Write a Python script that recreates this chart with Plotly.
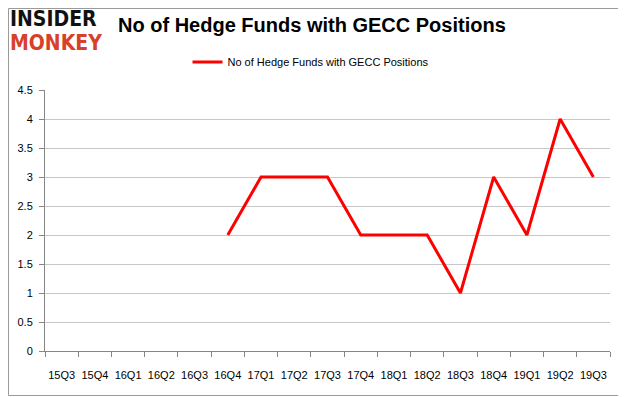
import plotly.graph_objects as go

quarters = ["15Q3","15Q4","16Q1","16Q2","16Q3","16Q4","17Q1","17Q2","17Q3",
            "17Q4","18Q1","18Q2","18Q3","18Q4","19Q1","19Q2","19Q3"]
hedge_funds = [None, None, None, None, None, 2, 3, 3, 3, 2, 2, 2, 1, 3, 2, 4, 3]
series_name = "No of Hedge Funds with GECC Positions"
y_ticks = [0, 0.5, 1, 1.5, 2, 2.5, 3, 3.5, 4, 4.5]

# page body has an 8px default margin, so the figure is sized/offset to fit
OFF = 8
W, H = 626 - OFF, 397 - OFF
ml, mr, mt, mb = 45 - OFF, 16, 90 - OFF, 46
pw, ph = W - ml - mr, H - mt - mb


def px_x(x):  # reference pixel x -> paper coordinate
    return (x - OFF - ml) / pw


def px_y(y):  # reference pixel y -> paper coordinate
    return (H - (y - OFF) - mb) / ph


fig = go.Figure()
fig.add_trace(go.Scatter(
    x=quarters, y=hedge_funds, mode="lines", name=series_name,
    line=dict(color="#ff0000", width=3), connectgaps=False,
))

fig.update_layout(
    width=W, height=H,
    margin=dict(l=ml, r=mr, t=mt, b=mb, autoexpand=False),
    paper_bgcolor="white", plot_bgcolor="white",
    font=dict(family="Liberation Sans, Arial, sans-serif", size=11, color="#000000"),
    showlegend=True,
    legend=dict(orientation="h", x=px_x(311), xanchor="center", y=px_y(62),
                yanchor="middle", font=dict(size=11), bgcolor="rgba(0,0,0,0)"),
    xaxis=dict(type="category", categoryorder="array", categoryarray=quarters,
               range=[-0.5, len(quarters) - 0.5], showgrid=False,
               showline=True, linecolor="#868686", linewidth=1,
               ticks="outside", tickson="boundaries", ticklen=5, tickcolor="#868686",
               tickangle=0, automargin=False, ticklabelstandoff=14,
               tickfont=dict(size=11, family="Liberation Sans Narrow, Liberation Sans, Arial, sans-serif"),
               fixedrange=True),
    yaxis=dict(range=[0, 4.5], tickvals=y_ticks, ticktext=[f"{v:g}" for v in y_ticks],
               showgrid=True, gridcolor="#c8c8c8", gridwidth=1, automargin=False,
               showline=True, linecolor="#868686", linewidth=1,
               ticks="outside", ticklen=5, tickcolor="#868686", zeroline=False,
               ticklabelstandoff=4,
               tickfont=dict(size=11), fixedrange=True),
)

# outer border (right and bottom edges visible; left edge falls in page margin)
fig.add_shape(type="rect", xref="paper", yref="paper",
              x0=px_x(OFF + 0.5), x1=px_x(624.5),
              y0=px_y(395.5), y1=px_y(OFF + 0.5),
              line=dict(color="#9a9a9a", width=1), fillcolor="rgba(0,0,0,0)", layer="below")

# title
fig.add_annotation(text="<b>No of Hedge Funds with GECC Positions</b>",
                   xref="paper", yref="paper", x=px_x(312), y=px_y(25),
                   showarrow=False, xanchor="center", yanchor="middle",
                   font=dict(size=20, family="Liberation Sans, Arial, sans-serif", color="#000000"))
# logo
fig.add_annotation(text="<b>INSIDER</b>", xref="paper", yref="paper",
                   x=px_x(9), y=px_y(19), showarrow=False,
                   xanchor="left", yanchor="middle", borderpad=0,
                   font=dict(size=21, family="DejaVu Sans Condensed, DejaVu Sans, sans-serif", color="#111111"))
fig.add_annotation(text="<b>MONKEY</b>", xref="paper", yref="paper",
                   x=px_x(9), y=px_y(43), showarrow=False,
                   xanchor="left", yanchor="middle", borderpad=0,
                   font=dict(size=21, family="DejaVu Sans Condensed, DejaVu Sans, sans-serif", color="#d9402a"))

fig.write_html("out.html")
